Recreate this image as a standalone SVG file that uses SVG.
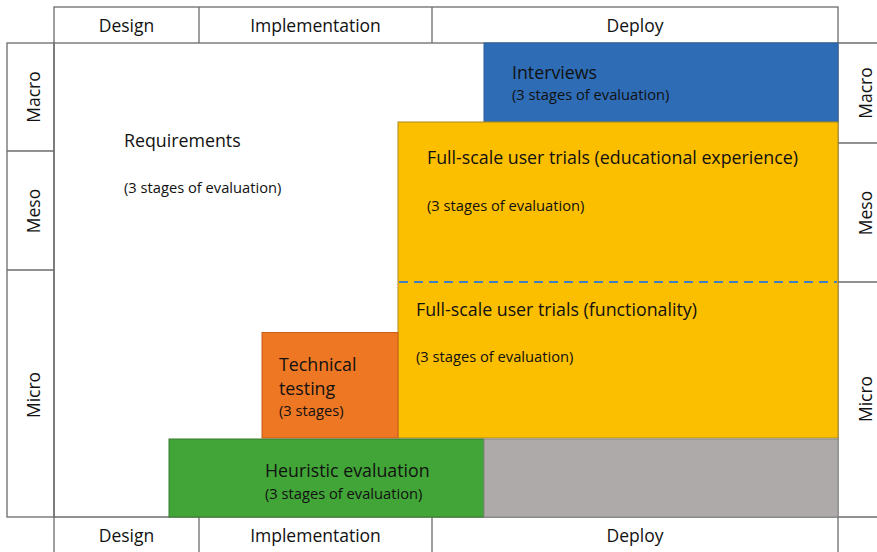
<svg xmlns="http://www.w3.org/2000/svg" width="877" height="552" viewBox="0 0 877 552">
  <style>
    .frame { fill: #ffffff; stroke: #6b6b6b; stroke-width: 1.3; }
    .line { stroke: #6b6b6b; stroke-width: 1.3; fill: none; }
    .lbl { font-family: "Open Sans", "Liberation Sans", sans-serif; font-size: 17.8px; fill: #111111; }
    .sub { font-family: "Open Sans", "Liberation Sans", sans-serif; font-size: 14.7px; fill: #111111; }
    .hdr { font-family: "Open Sans", "Liberation Sans", sans-serif; font-size: 17.5px; fill: #111111; text-anchor: middle; }
    .blue { fill: #2e6cb5; stroke: #2a5f9e; stroke-width: 1; }
    .yellow { fill: #fbbf00; stroke: #b08a1a; stroke-width: 1; }
    .orange { fill: #ee7724; stroke: #c95e18; stroke-width: 1; }
    .green { fill: #41a537; stroke: #3a7a33; stroke-width: 1; }
    .grey { fill: #aeaaaa; stroke: #8a8888; stroke-width: 1; }
  </style>

  <rect width="877" height="552" fill="#ffffff"/>

  <!-- phase headers, top -->
  <g id="header-top">
    <rect class="frame" x="54" y="7" width="784" height="36"/>
    <line class="line" x1="199" y1="7" x2="199" y2="43"/>
    <line class="line" x1="432" y1="7" x2="432" y2="43"/>
    <text class="hdr" x="126.5" y="32">Design</text>
    <text class="hdr" x="315.5" y="32">Implementation</text>
    <text class="hdr" x="635" y="32">Deploy</text>
  </g>

  <!-- phase headers, bottom -->
  <g id="header-bottom">
    <line class="line" x1="54" y1="517" x2="877" y2="517"/>
    <line class="line" x1="54" y1="517" x2="54" y2="552"/>
    <line class="line" x1="199" y1="517" x2="199" y2="552"/>
    <line class="line" x1="432" y1="517" x2="432" y2="552"/>
    <line class="line" x1="838" y1="517" x2="838" y2="552"/>
    <text class="hdr" x="126.5" y="542">Design</text>
    <text class="hdr" x="315.5" y="542">Implementation</text>
    <text class="hdr" x="635" y="542">Deploy</text>
  </g>

  <!-- level labels, left -->
  <g id="levels-left">
    <rect class="frame" x="7" y="43" width="47" height="474"/>
    <line class="line" x1="7" y1="151" x2="54" y2="151"/>
    <line class="line" x1="7" y1="270" x2="54" y2="270"/>
    <text class="hdr" transform="translate(40 97) rotate(-90)">Macro</text>
    <text class="hdr" transform="translate(40 211) rotate(-90)">Meso</text>
    <text class="hdr" transform="translate(40 395) rotate(-90)">Micro</text>
  </g>

  <!-- level labels, right -->
  <g id="levels-right">
    <line class="line" x1="838" y1="43" x2="877" y2="43"/>
    <line class="line" x1="838" y1="143" x2="877" y2="143"/>
    <line class="line" x1="838" y1="282" x2="877" y2="282"/>
    <text class="hdr" transform="translate(872 93) rotate(-90)">Macro</text>
    <text class="hdr" transform="translate(872 213) rotate(-90)">Meso</text>
    <text class="hdr" transform="translate(872 399) rotate(-90)">Micro</text>
  </g>

  <!-- main field -->
  <g id="field">
    <line class="line" x1="54" y1="43" x2="54" y2="517"/>
    <line class="line" x1="838" y1="43" x2="838" y2="517"/>
  </g>

  <g id="requirements">
    <text class="lbl" x="124" y="147">Requirements</text>
    <text class="sub" x="124" y="193">(3 stages of evaluation)</text>
  </g>

  <g id="interviews">
    <rect class="blue" x="484" y="43" width="354" height="80"/>
    <text class="lbl" x="512" y="79">Interviews</text>
    <text class="sub" x="512" y="100">(3 stages of evaluation)</text>
  </g>

  <g id="user-trials">
    <rect class="yellow" x="398" y="122" width="440" height="316"/>
    <text class="lbl" x="427" y="164">Full-scale user trials (educational experience)</text>
    <text class="sub" x="427" y="211">(3 stages of evaluation)</text>
    <text class="lbl" x="416" y="316">Full-scale user trials (functionality)</text>
    <text class="sub" x="416" y="362">(3 stages of evaluation)</text>
  </g>

  <g id="technical-testing">
    <rect class="orange" x="262" y="332.5" width="136" height="105.5"/>
    <text class="lbl" x="279" y="371">Technical</text>
    <text class="lbl" x="279" y="395">testing</text>
    <text class="sub" x="279" y="416">(3 stages)</text>
  </g>

  <g id="heuristic-evaluation">
    <rect class="green" x="169" y="439" width="315" height="78"/>
    <text class="lbl" x="265" y="477">Heuristic evaluation</text>
    <text class="sub" x="265" y="499">(3 stages of evaluation)</text>
  </g>

  <g id="unused-slot">
    <rect class="grey" x="484" y="439" width="354" height="78"/>
  </g>

  <!-- boundary between the two trial levels -->
  <g id="connectors">
    <line x1="399" y1="282" x2="837" y2="282" stroke="#3f7fc4" stroke-width="2" stroke-dasharray="9 6"/>
  </g>
</svg>
